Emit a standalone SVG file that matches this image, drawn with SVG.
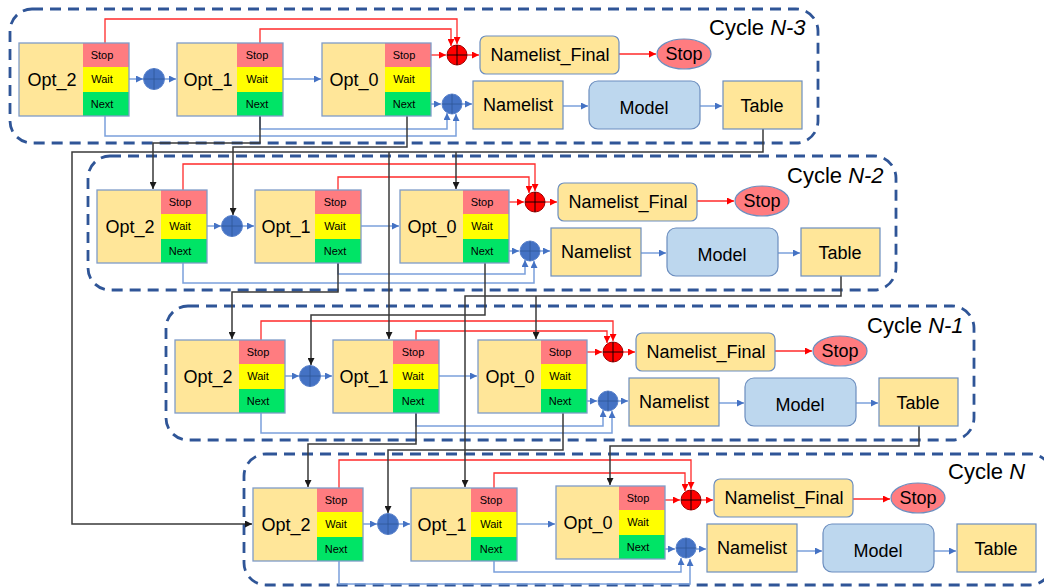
<svg xmlns="http://www.w3.org/2000/svg" width="1044" height="587" viewBox="0 0 1044 587">
<defs>
<style>
.cyc{fill:none;stroke:#2F5597;stroke-width:2.8;stroke-dasharray:11 7}
.of{fill:#FFE699}
.ol{fill:none;stroke:#7F9CC8;stroke-width:1.3}
.st{fill:#FF7C80}.wt{fill:#FFFF00}.nx{fill:#00E466}
.box{fill:#FFE699;stroke:#6C8EBF;stroke-width:1.2}
.mdl{fill:#BDD7EE;stroke:#6C8EBF;stroke-width:1.2}
.stp{fill:#FF7C80;stroke:#6C8EBF;stroke-width:1.2}
.bc{fill:#4472C4;stroke:#5B83CC;stroke-width:1}
.bx{fill:none;stroke:#2F5597;stroke-width:0.8}
.rc{fill:#FF0000;stroke:#A00000;stroke-width:1}
.rx{fill:none;stroke:#000;stroke-width:0.9}
.t18{font-family:"Liberation Sans",Arial,sans-serif;font-size:18px;fill:#000;text-anchor:middle}
.t11{font-family:"Liberation Sans",Arial,sans-serif;font-size:11px;fill:#000;text-anchor:middle}
.lab{font-family:"Liberation Sans",Arial,sans-serif;font-size:22px;fill:#000}
.bl{fill:none;stroke:#7BA0DB;stroke-width:1.5;marker-end:url(#ab)}
.bln{fill:none;stroke:#7BA0DB;stroke-width:1.5}
.rd{fill:none;stroke:#FF2A2A;stroke-width:1.3;marker-end:url(#ar)}
.bk{fill:none;stroke:#3A3A3A;stroke-width:1.5;marker-end:url(#ak)}
.bkn{fill:none;stroke:#3A3A3A;stroke-width:1.5}
</style>
<marker id="ab" viewBox="0 0 10 10" refX="10" refY="5" markerWidth="7" markerHeight="7" markerUnits="userSpaceOnUse" orient="auto"><path d="M0,0L10,5L0,10z" fill="#4472C4"/></marker>
<marker id="ar" viewBox="0 0 10 10" refX="10" refY="5" markerWidth="7" markerHeight="7" markerUnits="userSpaceOnUse" orient="auto"><path d="M0,0L10,5L0,10z" fill="#FF0000"/></marker>
<marker id="ak" viewBox="0 0 10 10" refX="10" refY="5" markerWidth="7" markerHeight="7" markerUnits="userSpaceOnUse" orient="auto"><path d="M0,0L10,5L0,10z" fill="#1A1A1A"/></marker>
</defs>
<rect width="1044" height="587" fill="#fff"/>

<g id="frames">
<g id="frame-N-3"><rect class="cyc" x="10" y="9" width="808" height="134" rx="22"/><text class="lab" x="709" y="35">Cycle <tspan font-style="italic">N-3</tspan></text></g>
<g id="frame-N-2" transform="translate(78,147)"><rect class="cyc" x="10" y="9" width="808" height="134" rx="22"/><text class="lab" x="709" y="36">Cycle <tspan font-style="italic">N-2</tspan></text></g>
<g id="frame-N-1" transform="translate(156,297)"><rect class="cyc" x="10" y="9" width="808" height="134" rx="22"/><text class="lab" x="711" y="36">Cycle <tspan font-style="italic">N-1</tspan></text></g>
<g id="frame-N" transform="translate(234,445)"><rect class="cyc" x="10" y="9" width="808" height="131" rx="22"/><text class="lab" x="714" y="34">Cycle <tspan font-style="italic">N</tspan></text></g>
</g>

<g id="connectors">
<g id="conn-N-3">
<path class="bl" d="M129,79H143"/><path class="bl" d="M164.5,79H176"/><path class="bl" d="M283,79H321"/>
<path class="bl" d="M431,104H441"/><path class="bl" d="M462,104H472"/><path class="bl" d="M563,106H588"/><path class="bl" d="M700,106H722"/>
<path class="bl" d="M105,116V136H456V114"/><path class="bl" d="M260,116V129H447V113"/>
<path class="rd" d="M431,55H446"/><path class="rd" d="M467,55H479"/><path class="rd" d="M619,54H656"/>
<path class="rd" d="M105,43V19H457V44"/><path class="rd" d="M260,43V29H451V46"/>
</g>
<g id="conn-N-2" transform="translate(78,147)">
<path class="bl" d="M129,79H143"/><path class="bl" d="M164.5,79H176"/><path class="bl" d="M283,79H321"/>
<path class="bl" d="M431,104H441"/><path class="bl" d="M462,104H472"/><path class="bl" d="M563,106H588"/><path class="bl" d="M700,106H722"/>
<path class="bl" d="M105,116V136H456V114"/><path class="bl" d="M260,116V127H447V113"/>
<path class="rd" d="M431,55H446"/><path class="rd" d="M467,55H479"/><path class="rd" d="M619,54H656"/>
<path class="rd" d="M105,43V17H457V44"/><path class="rd" d="M260,43V30H451V46"/>
</g>
<g id="conn-N-1" transform="translate(156,297)">
<path class="bl" d="M129,79H143"/><path class="bl" d="M164.5,79H176"/><path class="bl" d="M283,79H321"/>
<path class="bl" d="M431,104H441"/><path class="bl" d="M462,104H472"/><path class="bl" d="M563,106H588"/><path class="bl" d="M700,106H722"/>
<path class="bl" d="M105,116V136H456V114"/><path class="bl" d="M260,116V129H447V113"/>
<path class="rd" d="M431,55H446"/><path class="rd" d="M467,55H479"/><path class="rd" d="M619,54H656"/>
<path class="rd" d="M105,43V24H457V44"/><path class="rd" d="M260,43V34H451V46"/>
</g>
<g id="conn-N" transform="translate(234,445)">
<path class="bl" d="M129,79H143"/><path class="bl" d="M164.5,79H176"/><path class="bl" d="M283,79H321"/>
<path class="bl" d="M431,104H441"/><path class="bl" d="M462,104H472"/><path class="bl" d="M563,106H588"/><path class="bl" d="M700,106H722"/>
<path class="bl" d="M105,116V139H456V114"/><path class="bl" d="M260,116V127H447V113"/>
<path class="rd" d="M431,55H446"/><path class="rd" d="M467,55H479"/><path class="rd" d="M619,54H656"/>
<path class="rd" d="M105,43V15H457V44"/><path class="rd" d="M260,43V28H451V46"/>
</g>
<g id="conn-between">
<path class="bk" d="M260,116V143H153V189"/>
<path class="bk" d="M407,116V147H233V215"/>
<path class="bk" d="M763,129V152H72V524H252"/>
<path class="bk" d="M456,152V189"/>
<path class="bk" d="M389,152V339"/>
<path class="bk" d="M338,263V292H232V339"/>
<path class="bk" d="M485,263V315H311V365"/>
<path class="bk" d="M841,276V296H465V487"/>
<path class="bk" d="M536,296V339"/>
<path class="bk" d="M416,413V444H308V487"/>
<path class="bk" d="M563,413V450H388V513"/>
<path class="bk" d="M919,426V446H610V485"/>
</g>
</g>

<g id="cycle-N-3">
<g id="n3-opt2"><rect class="of" x="19" y="43" width="110" height="73"/><rect class="st" x="83" y="43" width="46" height="24"/><rect class="wt" x="83" y="67" width="46" height="25"/><rect class="nx" x="83" y="92" width="46" height="24"/><rect class="ol" x="19" y="43" width="110" height="73"/><text class="t18" x="52" y="86">Opt_2</text><text class="t11" x="102" y="59">Stop</text><text class="t11" x="102" y="83">Wait</text><text class="t11" x="102" y="108">Next</text></g>
<g id="n3-plus1"><circle class="bc" cx="154" cy="79" r="10.5"/><path class="bx" d="M143.5,79H164.5M154,68.5V89.5"/></g>
<g id="n3-opt1"><rect class="of" x="177" y="43" width="106" height="73"/><rect class="st" x="237" y="43" width="46" height="24"/><rect class="wt" x="237" y="67" width="46" height="25"/><rect class="nx" x="237" y="92" width="46" height="24"/><rect class="ol" x="177" y="43" width="106" height="73"/><text class="t18" x="208" y="86">Opt_1</text><text class="t11" x="257" y="59">Stop</text><text class="t11" x="257" y="83">Wait</text><text class="t11" x="257" y="108">Next</text></g>
<g id="n3-opt0"><rect class="of" x="322" y="43" width="109" height="73"/><rect class="st" x="385" y="43" width="46" height="24"/><rect class="wt" x="385" y="67" width="46" height="25"/><rect class="nx" x="385" y="92" width="46" height="24"/><rect class="ol" x="322" y="43" width="109" height="73"/><text class="t18" x="354" y="86">Opt_0</text><text class="t11" x="404" y="59">Stop</text><text class="t11" x="404" y="83">Wait</text><text class="t11" x="404" y="108">Next</text></g>
<g id="n3-red"><circle class="rc" cx="457" cy="55" r="10"/><path class="rx" d="M447,55H467M457,45V65"/></g>
<g id="n3-final"><rect class="box" x="480" y="36" width="139" height="38" rx="6"/><text class="t18" x="550" y="61">Namelist_Final</text></g>
<g id="n3-stop"><ellipse class="stp" cx="684" cy="54" rx="27" ry="15"/><text class="t18" x="684" y="60">Stop</text></g>
<g id="n3-plus2"><circle class="bc" cx="452" cy="104" r="10"/><path class="bx" d="M442,104H462M452,94V114"/></g>
<g id="n3-namelist"><rect class="box" x="473" y="81" width="90" height="48"/><text class="t18" x="518" y="111">Namelist</text></g>
<g id="n3-model"><rect class="mdl" x="589" y="81" width="111" height="48" rx="9"/><text class="t18" x="644" y="114">Model</text></g>
<g id="n3-table"><rect class="box" x="723" y="81" width="79" height="48"/><text class="t18" x="762" y="112">Table</text></g>
</g>

<g id="cycle-N-2" transform="translate(78,147)">
<g id="n2-opt2"><rect class="of" x="19" y="43" width="110" height="73"/><rect class="st" x="83" y="43" width="46" height="24"/><rect class="wt" x="83" y="67" width="46" height="25"/><rect class="nx" x="83" y="92" width="46" height="24"/><rect class="ol" x="19" y="43" width="110" height="73"/><text class="t18" x="52" y="86">Opt_2</text><text class="t11" x="102" y="59">Stop</text><text class="t11" x="102" y="83">Wait</text><text class="t11" x="102" y="108">Next</text></g>
<g id="n2-plus1"><circle class="bc" cx="154" cy="79" r="10.5"/><path class="bx" d="M143.5,79H164.5M154,68.5V89.5"/></g>
<g id="n2-opt1"><rect class="of" x="177" y="43" width="106" height="73"/><rect class="st" x="237" y="43" width="46" height="24"/><rect class="wt" x="237" y="67" width="46" height="25"/><rect class="nx" x="237" y="92" width="46" height="24"/><rect class="ol" x="177" y="43" width="106" height="73"/><text class="t18" x="208" y="86">Opt_1</text><text class="t11" x="257" y="59">Stop</text><text class="t11" x="257" y="83">Wait</text><text class="t11" x="257" y="108">Next</text></g>
<g id="n2-opt0"><rect class="of" x="322" y="43" width="109" height="73"/><rect class="st" x="385" y="43" width="46" height="24"/><rect class="wt" x="385" y="67" width="46" height="25"/><rect class="nx" x="385" y="92" width="46" height="24"/><rect class="ol" x="322" y="43" width="109" height="73"/><text class="t18" x="354" y="86">Opt_0</text><text class="t11" x="404" y="59">Stop</text><text class="t11" x="404" y="83">Wait</text><text class="t11" x="404" y="108">Next</text></g>
<g id="n2-red"><circle class="rc" cx="457" cy="55" r="10"/><path class="rx" d="M447,55H467M457,45V65"/></g>
<g id="n2-final"><rect class="box" x="480" y="36" width="139" height="38" rx="6"/><text class="t18" x="550" y="61">Namelist_Final</text></g>
<g id="n2-stop"><ellipse class="stp" cx="684" cy="54" rx="27" ry="15"/><text class="t18" x="684" y="60">Stop</text></g>
<g id="n2-plus2"><circle class="bc" cx="452" cy="104" r="10"/><path class="bx" d="M442,104H462M452,94V114"/></g>
<g id="n2-namelist"><rect class="box" x="473" y="81" width="90" height="48"/><text class="t18" x="518" y="111">Namelist</text></g>
<g id="n2-model"><rect class="mdl" x="589" y="81" width="111" height="48" rx="9"/><text class="t18" x="644" y="114">Model</text></g>
<g id="n2-table"><rect class="box" x="723" y="81" width="79" height="48"/><text class="t18" x="762" y="112">Table</text></g>
</g>

<g id="cycle-N-1" transform="translate(156,297)">
<g id="n1-opt2"><rect class="of" x="19" y="43" width="110" height="73"/><rect class="st" x="83" y="43" width="46" height="24"/><rect class="wt" x="83" y="67" width="46" height="25"/><rect class="nx" x="83" y="92" width="46" height="24"/><rect class="ol" x="19" y="43" width="110" height="73"/><text class="t18" x="52" y="86">Opt_2</text><text class="t11" x="102" y="59">Stop</text><text class="t11" x="102" y="83">Wait</text><text class="t11" x="102" y="108">Next</text></g>
<g id="n1-plus1"><circle class="bc" cx="154" cy="79" r="10.5"/><path class="bx" d="M143.5,79H164.5M154,68.5V89.5"/></g>
<g id="n1-opt1"><rect class="of" x="177" y="43" width="106" height="73"/><rect class="st" x="237" y="43" width="46" height="24"/><rect class="wt" x="237" y="67" width="46" height="25"/><rect class="nx" x="237" y="92" width="46" height="24"/><rect class="ol" x="177" y="43" width="106" height="73"/><text class="t18" x="208" y="86">Opt_1</text><text class="t11" x="257" y="59">Stop</text><text class="t11" x="257" y="83">Wait</text><text class="t11" x="257" y="108">Next</text></g>
<g id="n1-opt0"><rect class="of" x="322" y="43" width="109" height="73"/><rect class="st" x="385" y="43" width="46" height="24"/><rect class="wt" x="385" y="67" width="46" height="25"/><rect class="nx" x="385" y="92" width="46" height="24"/><rect class="ol" x="322" y="43" width="109" height="73"/><text class="t18" x="354" y="86">Opt_0</text><text class="t11" x="404" y="59">Stop</text><text class="t11" x="404" y="83">Wait</text><text class="t11" x="404" y="108">Next</text></g>
<g id="n1-red"><circle class="rc" cx="457" cy="55" r="10"/><path class="rx" d="M447,55H467M457,45V65"/></g>
<g id="n1-final"><rect class="box" x="480" y="36" width="139" height="38" rx="6"/><text class="t18" x="550" y="61">Namelist_Final</text></g>
<g id="n1-stop"><ellipse class="stp" cx="684" cy="54" rx="27" ry="15"/><text class="t18" x="684" y="60">Stop</text></g>
<g id="n1-plus2"><circle class="bc" cx="452" cy="104" r="10"/><path class="bx" d="M442,104H462M452,94V114"/></g>
<g id="n1-namelist"><rect class="box" x="473" y="81" width="90" height="48"/><text class="t18" x="518" y="111">Namelist</text></g>
<g id="n1-model"><rect class="mdl" x="589" y="81" width="111" height="48" rx="9"/><text class="t18" x="644" y="114">Model</text></g>
<g id="n1-table"><rect class="box" x="723" y="81" width="79" height="48"/><text class="t18" x="762" y="112">Table</text></g>
</g>

<g id="cycle-N" transform="translate(234,445)">
<g id="n0-opt2"><rect class="of" x="19" y="43" width="110" height="73"/><rect class="st" x="83" y="43" width="46" height="24"/><rect class="wt" x="83" y="67" width="46" height="25"/><rect class="nx" x="83" y="92" width="46" height="24"/><rect class="ol" x="19" y="43" width="110" height="73"/><text class="t18" x="52" y="86">Opt_2</text><text class="t11" x="102" y="59">Stop</text><text class="t11" x="102" y="83">Wait</text><text class="t11" x="102" y="108">Next</text></g>
<g id="n0-plus1"><circle class="bc" cx="154" cy="79" r="10.5"/><path class="bx" d="M143.5,79H164.5M154,68.5V89.5"/></g>
<g id="n0-opt1"><rect class="of" x="177" y="43" width="106" height="73"/><rect class="st" x="237" y="43" width="46" height="24"/><rect class="wt" x="237" y="67" width="46" height="25"/><rect class="nx" x="237" y="92" width="46" height="24"/><rect class="ol" x="177" y="43" width="106" height="73"/><text class="t18" x="208" y="86">Opt_1</text><text class="t11" x="257" y="59">Stop</text><text class="t11" x="257" y="83">Wait</text><text class="t11" x="257" y="108">Next</text></g>
<g id="n0-opt0"><rect class="of" x="322" y="41" width="109" height="73"/><rect class="st" x="385" y="41" width="46" height="24"/><rect class="wt" x="385" y="65" width="46" height="25"/><rect class="nx" x="385" y="90" width="46" height="24"/><rect class="ol" x="322" y="41" width="109" height="73"/><text class="t18" x="354" y="84">Opt_0</text><text class="t11" x="404" y="57">Stop</text><text class="t11" x="404" y="81">Wait</text><text class="t11" x="404" y="106">Next</text></g>
<g id="n0-red"><circle class="rc" cx="457" cy="55" r="10"/><path class="rx" d="M447,55H467M457,45V65"/></g>
<g id="n0-final"><rect class="box" x="480" y="34" width="139" height="38" rx="6"/><text class="t18" x="550" y="59">Namelist_Final</text></g>
<g id="n0-stop"><ellipse class="stp" cx="684" cy="53" rx="27" ry="15"/><text class="t18" x="684" y="59">Stop</text></g>
<g id="n0-plus2"><circle class="bc" cx="452" cy="103" r="10"/><path class="bx" d="M442,103H462M452,93V113"/></g>
<g id="n0-namelist"><rect class="box" x="473" y="79" width="90" height="48"/><text class="t18" x="518" y="109">Namelist</text></g>
<g id="n0-model"><rect class="mdl" x="589" y="79" width="111" height="48" rx="9"/><text class="t18" x="644" y="112">Model</text></g>
<g id="n0-table"><rect class="box" x="723" y="79" width="79" height="48"/><text class="t18" x="762" y="110">Table</text></g>
</g>
</svg>
